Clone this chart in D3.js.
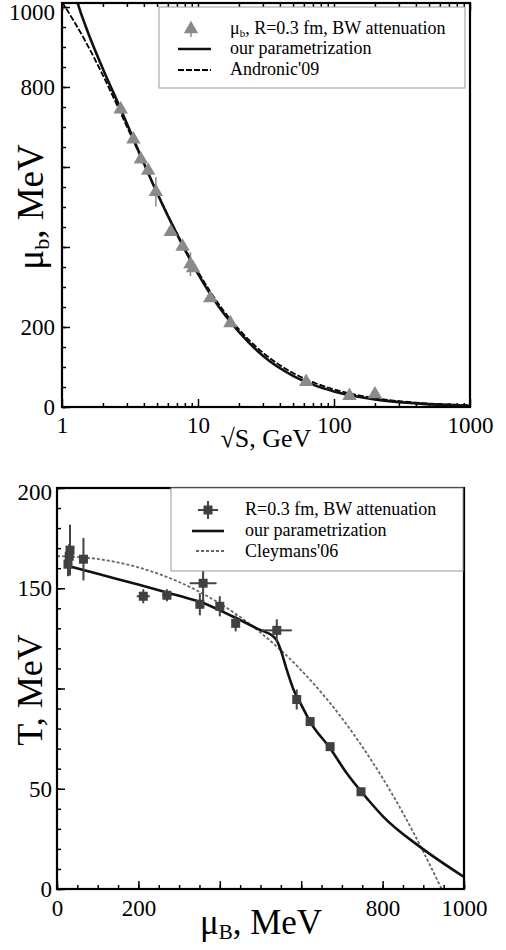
<!DOCTYPE html>
<html lang="en">
<head>
<meta charset="UTF-8">
<title>freeze-out</title>
<script src="https://d3js.org/d3.v7.min.js"></script>
<style>
  body { margin: 0; background: #fff; }
  svg text { font-family: "Liberation Serif", "DejaVu Serif", serif; fill: #000; }
</style>
</head>
<body>
<script>
// ---- top panel: mu_b vs sqrt(s) ----
var sqrtS   = [2.7, 3.35, 3.8, 4.3, 4.9, 6.3, 7.7, 8.8, 9.2, 12.3, 17.3, 62.4, 130, 200];
var muData  = [744, 669, 619, 591, 538, 438, 401, 357, 347, 272, 210, 63, 28, 32];
var muErr   = [0, 0, 0, 0, 37, 0, 0, 30, 0, 0, 0, 0, 0, 0];

var ourS    = [1.2, 1.3, 1.5, 2, 2.7, 3.5, 5, 7, 10, 15, 20, 30, 50, 70, 100, 200, 400, 1000];
var ourMu   = [1060, 1012, 950, 845, 745, 655, 535, 432, 333, 240, 188, 128, 78, 56, 39, 19, 9, 3];
var andS    = [1, 1.5, 2, 3, 4, 5, 7, 10, 15, 20, 30, 50, 70, 100, 200, 400, 1000];
var andMu   = [1013, 912, 829, 701, 608, 536, 434, 338, 246, 194, 136, 85, 62, 44, 22, 11, 4.5];

var topXTicks = [1, 10, 100, 1000];
var topYTicks = [0, 200, 400, 600, 800, 1000];
var topYLabels = [0, 200, 800, 1000];

// ---- bottom panel: T vs mu_B ----
var muB     = [27, 30, 32, 65, 212, 270, 351, 359, 400, 439, 540, 589, 622, 671, 747];
var tData   = [162, 166, 169, 164.5, 146, 146.5, 142, 152.5, 141, 132.5, 129, 94.5, 83.5, 71, 48.5];
var tErr    = [6, 6, 12.7, 10.6, 3.5, 3, 5.5, 12, 5, 4, 5.5, 5, 2, 1, 0];
var mErr    = [0, 0, 0, 0, 16, 12, 0, 33, 0, 0, 37, 0, 0, 0, 0];

var ourMuB  = [30, 100, 204, 300, 351, 433, 499, 531, 540, 550, 565, 581, 600, 622, 671, 712, 765, 802, 892, 1000];
var ourT    = [161, 157.2, 151.6, 146.2, 143.3, 135.8, 129.2, 126, 124, 119, 109, 99.5, 92, 83.4, 70.2, 57.7, 44.4, 36, 21, 6];
var cleyMuB = [0, 100, 200, 300, 400, 500, 600, 700, 800, 850, 900, 945];
var cleyT   = [166, 164.6, 160.4, 153.1, 142.4, 127.9, 109.1, 85.2, 55.3, 37.9, 18.6, 0];

var botXTicks = [0, 200, 400, 600, 800, 1000];
var botXLabels = [0, 200, 800, 1000];
var botYTicks = [0, 50, 100, 150, 200];
var botYLabels = [0, 50, 150, 200];

var SERIF = '"Liberation Serif", "DejaVu Serif", serif';
var svg = d3.select("body").append("svg").attr("width", 506).attr("height", 950)
    .attr("font-family", SERIF);
var defs = svg.append("defs");

function fmtOnly(list) {
    return function(d) { return list.indexOf(d) >= 0 ? d : ""; };
}
function styleAxis(g, size) {
    g.attr("font-family", SERIF).attr("font-size", size);
    g.select(".domain").remove();
    g.selectAll(".tick line").attr("stroke", "#000").attr("stroke-width", 1.5);
    g.selectAll("text").style("font-size", size + "px").attr("fill", "#000");
}

// ================= top =================
var xT = d3.scaleLog().domain([1, 1000]).range([62, 470]);
var yT = d3.scaleLinear().domain([0, 1010]).range([407, 3]);

var minorS = [];
[1, 10, 100].forEach(function(dec) {
    for (var k = 2; k <= 9; k++) minorS.push(dec * k);
});

var gTop = svg.append("g");
gTop.append("g").attr("transform", "translate(0,407)")
    .call(d3.axisBottom(xT).tickValues(topXTicks).tickSize(-8).tickPadding(10).tickFormat(d3.format("d")))
    .call(styleAxis, 23);
gTop.append("g").attr("transform", "translate(0,407)")
    .call(d3.axisBottom(xT).tickValues(minorS).tickSize(-4).tickFormat(""))
    .call(styleAxis, 23);
gTop.append("g").attr("transform", "translate(0,3)")
    .call(d3.axisTop(xT).tickValues(topXTicks).tickSize(-8).tickFormat(""))
    .call(styleAxis, 23);
gTop.append("g").attr("transform", "translate(0,3)")
    .call(d3.axisTop(xT).tickValues(minorS).tickSize(-4).tickFormat(""))
    .call(styleAxis, 23);
var yAxTop = gTop.append("g").attr("transform", "translate(62,0)")
    .call(d3.axisLeft(yT).tickValues(topYTicks).tickSize(-8).tickPadding(7).tickFormat(fmtOnly(topYLabels)))
    .call(styleAxis, 23);
yAxTop.selectAll(".tick text").filter(function(d) { return d === 1000; }).attr("dy", "0.55em");
gTop.append("g").attr("transform", "translate(62,0)")
    .call(d3.axisLeft(yT).ticks(21).tickSize(-4).tickFormat(""))
    .call(styleAxis, 23);

defs.append("clipPath").attr("id", "clipTop").append("rect")
    .attr("x", 62).attr("y", 3).attr("width", 408).attr("height", 404);

var lineTop = d3.line().curve(d3.curveMonotoneX)
    .x(function(d) { return xT(d[0]); }).y(function(d) { return yT(d[1]); });

var curvesTop = gTop.append("g").attr("clip-path", "url(#clipTop)");
curvesTop.append("path").datum(d3.zip(andS, andMu)).attr("d", lineTop)
    .attr("fill", "none").attr("stroke", "#000").attr("stroke-width", 1.8).attr("stroke-dasharray", "6,2");
curvesTop.append("path").datum(d3.zip(ourS, ourMu)).attr("d", lineTop)
    .attr("fill", "none").attr("stroke", "#111").attr("stroke-width", 2.6);

var triangle = d3.symbol().type(d3.symbolTriangle).size(90);
var ptsTop = gTop.append("g");
sqrtS.forEach(function(s, i) {
    if (muErr[i] > 0) {
        ptsTop.append("line").attr("x1", xT(s)).attr("x2", xT(s))
            .attr("y1", yT(muData[i] - muErr[i])).attr("y2", yT(muData[i] + muErr[i]))
            .attr("stroke", "#888").attr("stroke-width", 1.5);
    }
    ptsTop.append("path").attr("d", triangle)
        .attr("transform", "translate(" + xT(s) + "," + yT(muData[i]) + ")")
        .attr("fill", "#8a8a8a");
});

gTop.append("rect").attr("x", 62).attr("y", 3).attr("width", 408).attr("height", 404)
    .attr("fill", "none").attr("stroke", "#000").attr("stroke-width", 2.2);

// legend top
var legT = gTop.append("g");
legT.append("rect").attr("x", 159).attr("y", 7).attr("width", 306).attr("height", 81)
    .attr("fill", "#fff").attr("stroke", "#999").attr("stroke-width", 1);
legT.append("line").attr("x1", 191).attr("x2", 191).attr("y1", 23).attr("y2", 37)
    .attr("stroke", "#888").attr("stroke-width", 1.5);
legT.append("path").attr("d", triangle).attr("transform", "translate(191,29)").attr("fill", "#8a8a8a");
var t1 = legT.append("text").attr("x", 230).attr("y", 34).style("font-size", "18px");
t1.append("tspan").text("μ");
t1.append("tspan").attr("dy", 3).style("font-size", "11px").text("b");
t1.append("tspan").attr("dy", -3).text(",  R=0.3 fm, BW attenuation");
legT.append("line").attr("x1", 178).attr("x2", 211).attr("y1", 49).attr("y2", 49)
    .attr("stroke", "#111").attr("stroke-width", 2.6);
legT.append("text").attr("x", 230).attr("y", 54).style("font-size", "18px").text("our parametrization");
legT.append("line").attr("x1", 178).attr("x2", 211).attr("y1", 70).attr("y2", 70)
    .attr("stroke", "#000").attr("stroke-width", 1.8).attr("stroke-dasharray", "6,2");
legT.append("text").attr("x", 230).attr("y", 75).style("font-size", "18px").text("Andronic'09");

// titles top
gTop.append("text").attr("x", 266).attr("y", 447).attr("text-anchor", "middle")
    .style("font-size", "26px").text("√S, GeV");
var yt = gTop.append("text").attr("transform", "translate(43,207) rotate(-90)")
    .attr("text-anchor", "middle").style("font-size", "37px");
yt.append("tspan").text("μ");
yt.append("tspan").attr("dy", 6).style("font-size", "22px").text("b");
yt.append("tspan").attr("dy", -6).text(", MeV");

// ================= bottom =================
var xB = d3.scaleLinear().domain([0, 1000]).range([57, 464]);
var yB = d3.scaleLinear().domain([0, 200]).range([889, 488]);

var gBot = svg.append("g");
gBot.append("g").attr("transform", "translate(0,889)")
    .call(d3.axisBottom(xB).tickValues(botXTicks).tickSize(-8).tickPadding(11).tickFormat(fmtOnly(botXLabels)))
    .call(styleAxis, 23);
gBot.append("g").attr("transform", "translate(0,889)")
    .call(d3.axisBottom(xB).ticks(20).tickSize(-4).tickFormat(""))
    .call(styleAxis, 23);
var yAxBot = gBot.append("g").attr("transform", "translate(57,0)")
    .call(d3.axisLeft(yB).tickValues(botYTicks).tickSize(-8).tickPadding(5).tickFormat(fmtOnly(botYLabels)))
    .call(styleAxis, 23);
yAxBot.selectAll(".tick text").filter(function(d) { return d === 200; }).attr("dy", "0.5em");
gBot.append("g").attr("transform", "translate(57,0)")
    .call(d3.axisLeft(yB).ticks(20).tickSize(-4).tickFormat(""))
    .call(styleAxis, 23);

defs.append("clipPath").attr("id", "clipBot").append("rect")
    .attr("x", 57).attr("y", 488).attr("width", 407).attr("height", 401);

var lineBot = d3.line().curve(d3.curveMonotoneX)
    .x(function(d) { return xB(d[0]); }).y(function(d) { return yB(d[1]); });

var curvesBot = gBot.append("g").attr("clip-path", "url(#clipBot)");
curvesBot.append("path").datum(d3.zip(cleyMuB, cleyT)).attr("d", lineBot)
    .attr("fill", "none").attr("stroke", "#666").attr("stroke-width", 1.8).attr("stroke-dasharray", "3,2");
curvesBot.append("path").datum(d3.zip(ourMuB, ourT)).attr("d", lineBot)
    .attr("fill", "none").attr("stroke", "#111").attr("stroke-width", 2.6);

var ptsBot = gBot.append("g");
muB.forEach(function(m, i) {
    var cx = xB(m), cy = yB(tData[i]);
    if (tErr[i] > 0) {
        ptsBot.append("line").attr("x1", cx).attr("x2", cx)
            .attr("y1", yB(tData[i] - tErr[i])).attr("y2", yB(tData[i] + tErr[i]))
            .attr("stroke", "#444").attr("stroke-width", 2);
    }
    if (mErr[i] > 0) {
        ptsBot.append("line").attr("y1", cy).attr("y2", cy)
            .attr("x1", xB(m - mErr[i])).attr("x2", xB(m + mErr[i]))
            .attr("stroke", "#444").attr("stroke-width", 2);
    }
    ptsBot.append("rect").attr("x", cx - 4.5).attr("y", cy - 4.5)
        .attr("width", 9).attr("height", 9).attr("fill", "#404040");
});

gBot.append("rect").attr("x", 57).attr("y", 488).attr("width", 407).attr("height", 401)
    .attr("fill", "none").attr("stroke", "#000").attr("stroke-width", 2.2);

// legend bottom
var legB = gBot.append("g");
legB.append("rect").attr("x", 171).attr("y", 488).attr("width", 292).attr("height", 83)
    .attr("fill", "#fff").attr("stroke", "#999").attr("stroke-width", 1);
legB.append("line").attr("x1", 208).attr("x2", 208).attr("y1", 501).attr("y2", 519)
    .attr("stroke", "#444").attr("stroke-width", 2);
legB.append("line").attr("x1", 198).attr("x2", 218).attr("y1", 510).attr("y2", 510)
    .attr("stroke", "#444").attr("stroke-width", 2);
legB.append("rect").attr("x", 203.5).attr("y", 505.5).attr("width", 9).attr("height", 9).attr("fill", "#404040");
legB.append("text").attr("x", 245).attr("y", 515).style("font-size", "18px").text("R=0.3 fm, BW attenuation");
legB.append("line").attr("x1", 192).attr("x2", 224).attr("y1", 531).attr("y2", 531)
    .attr("stroke", "#111").attr("stroke-width", 2.6);
legB.append("text").attr("x", 245).attr("y", 536).style("font-size", "18px").text("our parametrization");
legB.append("line").attr("x1", 196).attr("x2", 224).attr("y1", 551).attr("y2", 551)
    .attr("stroke", "#666").attr("stroke-width", 1.8).attr("stroke-dasharray", "3,2");
legB.append("text").attr("x", 245).attr("y", 557).style("font-size", "18px").text("Cleymans'06");

// titles bottom
var xb = gBot.append("text").attr("x", 261).attr("y", 934).attr("text-anchor", "middle")
    .style("font-size", "35px");
xb.append("tspan").text("μ");
xb.append("tspan").attr("dy", 5).style("font-size", "21px").text("B");
xb.append("tspan").attr("dy", -5).text(", MeV");
gBot.append("text").attr("transform", "translate(42,690) rotate(-90)")
    .attr("text-anchor", "middle").style("font-size", "36px").text("T, MeV");
</script>
</body>
</html>
